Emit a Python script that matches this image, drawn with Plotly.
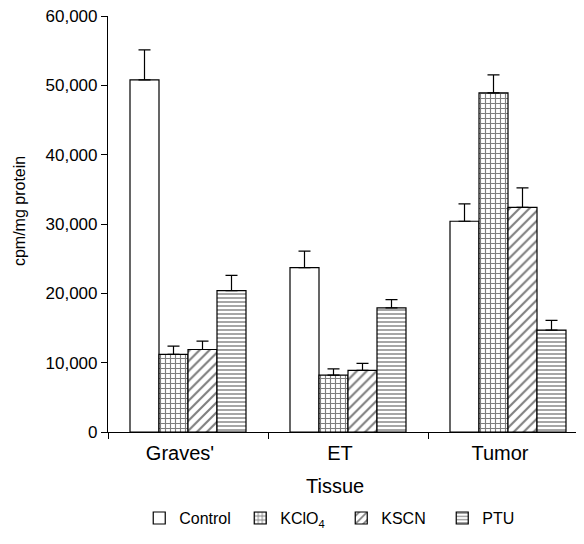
import plotly.graph_objects as go

categories = ["Graves'", "ET", "Tumor"]
series_names = ["Control", "KClO<sub>4</sub>", "KSCN", "PTU"]
control = [50800, 23700, 30400]
control_err = [4300, 2400, 2500]
kclo4 = [11200, 8200, 48900]
kclo4_err = [1200, 900, 2600]
kscn = [11900, 8900, 32400]
kscn_err = [1200, 1000, 2800]
ptu = [20400, 17900, 14700]
ptu_err = [2200, 1200, 1400]
y_ticks = [0, 10000, 20000, 30000, 40000, 50000, 60000]

values = [control, kclo4, kscn, ptu]
errors = [control_err, kclo4_err, kscn_err, ptu_err]
patterns = ["", "+", "/", "-"]
pattern_sizes = [6, 5, 7, 4]
pattern_solidity = [0.3, 0.4, 0.3, 0.35]

x_pos = list(range(len(categories)))
fig = go.Figure()
for name, vals, errs, pat, psz, sol in zip(series_names, values, errors,
                                          patterns, pattern_sizes, pattern_solidity):
    fig.add_trace(go.Bar(
        x=x_pos, y=vals, name=name,
        marker=dict(color="white", line=dict(color="black", width=1.2),
                    pattern=dict(shape=pat, fgcolor="black", bgcolor="white",
                                 size=psz, solidity=sol)),
        error_y=dict(type="data", symmetric=False, array=errs,
                     arrayminus=[0] * len(errs), color="black",
                     thickness=1.2, width=6),
    ))

font = "Liberation Sans, Arial, sans-serif"
fig.update_layout(
    width=584, height=544,
    margin=dict(l=100, r=8, t=8, b=120, autoexpand=False),
    plot_bgcolor="white", paper_bgcolor="white",
    barmode="group", bargap=0.275, bargroupgap=0,
    font=dict(family=font, color="black", size=16),
    showlegend=True,
    legend=dict(orientation="h", x=0.49, xanchor="center", y=-0.207,
                yanchor="middle", font=dict(size=16), itemwidth=30,
                entrywidth=56, traceorder="normal"),
    xaxis=dict(range=[-0.5, 2.475], showline=True, linecolor="black",
               linewidth=1.2, tickvals=x_pos, ticktext=categories,
               ticks="", tickfont=dict(size=20), showgrid=False,
               zeroline=False, automargin=False, ticklabelshift=-8,
               ticklabelstandoff=3,
               minor=dict(tickvals=[-0.5, 0.5, 1.5], ticks="outside",
                          ticklen=6, tickcolor="black", tickwidth=1)),
    yaxis=dict(range=[0, 60000], showline=True, linecolor="black",
               linewidth=1.2, tickvals=y_ticks, tickformat=",d",
               ticks="outside", ticklen=6, tickcolor="black",
               tickfont=dict(size=17), showgrid=False, zeroline=False,
               automargin=False, ticklabeloverflow="allow"),
    annotations=[
        dict(text="cpm/mg protein", textangle=-90, xref="paper", yref="paper",
             x=-0.187, y=0.531, xanchor="center", yanchor="middle",
             showarrow=False, font=dict(size=16)),
        dict(text="Tissue", xref="paper", yref="paper",
             x=0.477, y=-0.13, xanchor="center", yanchor="middle",
             showarrow=False, font=dict(size=20)),
    ],
)
fig.write_html("out.html")
